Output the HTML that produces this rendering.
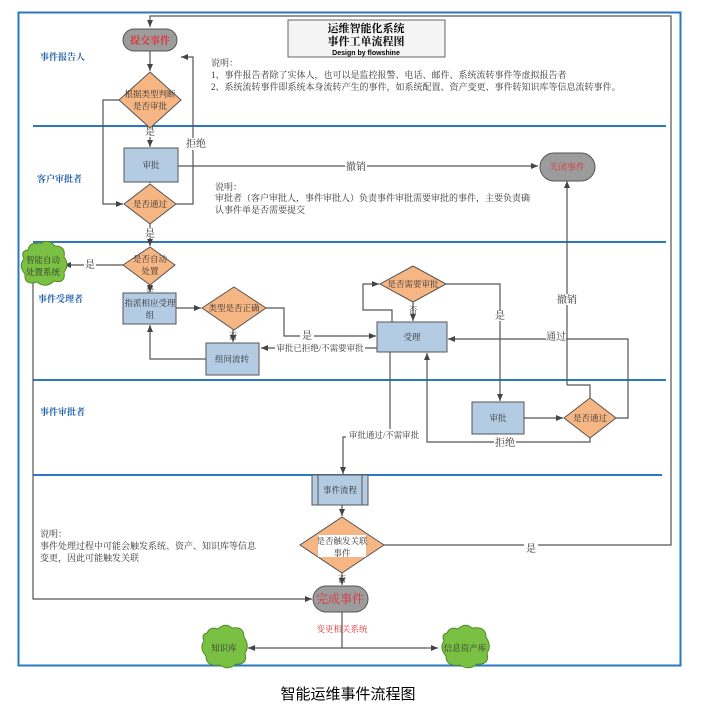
<!DOCTYPE html>
<html><head><meta charset="utf-8"><style>
body{margin:0;background:#fff;}
svg{display:block;font-family:"Liberation Serif","Noto Serif CJK SC","Noto Sans CJK SC",serif;}
.t{font-size:9px;fill:#333;}
.n{font-size:10px;fill:#333;}
.s{font-size:8.5px;}
.l{stroke:#555;stroke-width:1.2;fill:none;}
.lane{stroke:#2a78c0;stroke-width:2;}
.box{fill:#b4cce3;stroke:#555;stroke-width:1;}
.dia{fill:#f5b684;stroke:#555;stroke-width:1;}
.pill{fill:#9c9c9c;stroke:#555;stroke-width:1;}
.cloud{fill:#7ac143;stroke:#4e8a24;stroke-width:1;}
.lab{font-size:9px;font-weight:bold;fill:#1f5fa8;}
</style></head><body>
<svg width="714" height="711" viewBox="0 0 714 711" xmlns="http://www.w3.org/2000/svg">
<defs><marker id="a" markerWidth="8" markerHeight="8" refX="7" refY="4" orient="auto" markerUnits="userSpaceOnUse"><path d="M0,1 L7,4 L0,7 z" fill="#444"/></marker></defs>
<rect x="18.5" y="12.5" width="662" height="653" fill="none" stroke="#2a78c0" stroke-width="2"/>
<g class="lane"><line x1="33" y1="126" x2="666" y2="126"/><line x1="33" y1="242" x2="666" y2="242"/><line x1="33" y1="380" x2="666" y2="380"/><line x1="33" y1="475" x2="662" y2="475"/></g>
<text class="lab" x="40" y="60">事件报告人</text>
<text class="lab" x="37" y="182">客户审批者</text>
<text class="lab" x="38" y="302">事件受理者</text>
<text class="lab" x="40" y="415">事件审批者</text>
<rect x="288" y="20" width="157" height="37" fill="#f4f4f4" stroke="#666"/>
<text x="366" y="32" text-anchor="middle" font-size="11" font-weight="bold">运维智能化系统</text>
<text x="366" y="45" text-anchor="middle" font-size="11" font-weight="bold">事件工单流程图</text>
<text x="366" y="55" text-anchor="middle" font-size="7" font-family="Liberation Sans,sans-serif" font-weight="bold">Design by flowshine</text>
<text class="t" x="211" y="66">说明：</text>
<text class="t" x="211" y="78">1、事件报告者除了实体人，也可以是监控报警、电话、邮件、系统流转事件等虚拟报告者</text>
<text class="t" x="211" y="90">2、系统流转事件即系统本身流转产生的事件，如系统配置、资产变更、事件转知识库等信息流转事件。</text>
<text class="t" x="215" y="190">说明：</text>
<text class="t" x="215" y="201">审批者（客户审批人，事件审批人）负责事件审批需要审批的事件，主要负责确</text>
<text class="t" x="215" y="213">认事件单是否需要提交</text>
<text class="t" x="40" y="537">说明：</text>
<text class="t" x="40" y="549">事件处理过程中可能会触发系统、资产、知识库等信息</text>
<text class="t" x="40" y="561">变更，因此可能触发关联</text>
<path class="l" d="M384,545 H671 V16 H150 V27" marker-end="url(#a)"/>
<path class="l" d="M150,51 V71" marker-end="url(#a)"/>
<path class="l" d="M119,100 H103 V204 H123" marker-end="url(#a)"/>
<path class="l" d="M150,128 V147" marker-end="url(#a)"/>
<path class="l" d="M150,182 V183" marker-end="url(#a)"/>
<path class="l" d="M176,204 H193 V57 H181" marker-end="url(#a)"/>
<path class="l" d="M178,166 H538" marker-end="url(#a)"/>
<path class="l" d="M567,385 V181" marker-end="url(#a)"/>
<path class="l" d="M150,224 V246" marker-end="url(#a)"/>
<path class="l" d="M123,265 H64" marker-end="url(#a)"/>
<path class="l" d="M150,285 V292" marker-end="url(#a)"/>
<path class="l" d="M176,308 H201" marker-end="url(#a)"/>
<path class="l" d="M266,308 H284 V336 H376" marker-end="url(#a)"/>
<path class="l" d="M233,330 V342" marker-end="url(#a)"/>
<path class="l" d="M206,359 H150 V325" marker-end="url(#a)"/>
<path class="l" d="M377,348 H261" marker-end="url(#a)"/>
<path class="l" d="M392,322 V310 H363 V284 H379" marker-end="url(#a)"/>
<path class="l" d="M413,302 V321" marker-end="url(#a)"/>
<path class="l" d="M446,284 H500 V401" marker-end="url(#a)"/>
<path class="l" d="M524,418 H563" marker-end="url(#a)"/>
<path class="l" d="M616,418 H628 V339 H448" marker-end="url(#a)"/>
<path class="l" d="M590,438 V442 H427 V353" marker-end="url(#a)"/>
<path class="l" d="M590,398 V385 H567"/>
<path class="l" d="M390,352 V437 H343 V474" marker-end="url(#a)"/>
<path class="l" d="M342,505 V516" marker-end="url(#a)"/>
<path class="l" d="M342,573 V585" marker-end="url(#a)"/>
<path class="l" d="M33,282 V599 H312" marker-end="url(#a)"/>
<path class="l" d="M342,612 V648"/>
<path class="l" d="M342,648 H248" marker-end="url(#a)"/>
<path class="l" d="M342,648 H438" marker-end="url(#a)"/>
<g class="n" text-anchor="middle">
<rect x="143" y="127" width="14" height="10" fill="#fff"/><text x="150" y="135">是</text>
<rect x="185" y="138" width="18" height="12" fill="#fff"/><text x="196" y="147">拒绝</text>
<rect x="345" y="161" width="22" height="11" fill="#fff"/><text x="356" y="170">撤销</text>
<rect x="143" y="228" width="14" height="10" fill="#fff"/><text x="150" y="237">是</text>
<rect x="84" y="260" width="12" height="10" fill="#fff"/><text x="90" y="268">是</text>
<text x="150" y="293" font-size="8.5">是</text>
<text x="233" y="339" font-size="8.5">否</text>
<rect x="300" y="331" width="14" height="10" fill="#fff"/><text x="307" y="339">是</text>
<rect x="275" y="342" width="90" height="11" fill="#fff"/><text x="320" y="351" font-size="8.5">审批已拒绝/不需要审批</text>
<text x="413" y="313" font-size="8.5">否</text>
<rect x="493" y="311" width="14" height="10" fill="#fff"/><text x="500" y="319">是</text>
<rect x="546" y="331" width="20" height="11" fill="#fff"/><text x="556" y="340">通过</text>
<rect x="558" y="294" width="20" height="11" fill="#fff"/><text x="567" y="303">撤销</text>
<rect x="494" y="437" width="22" height="11" fill="#fff"/><text x="505" y="446">拒绝</text>
<rect x="346" y="429" width="76" height="11" fill="#fff"/><text x="384" y="438" font-size="8.5">审批通过/不需审批</text>
<rect x="524" y="544" width="14" height="10" fill="#fff"/><text x="531" y="552">是</text>
<text x="342" y="582" font-size="8.5">否</text>
<text x="342" y="632" font-size="8.5" fill="#e0313a">变更相关系统</text>
</g>
<rect x="123" y="29" width="54" height="22" rx="11" class="pill"/>
<text x="150" y="44" text-anchor="middle" font-size="10" font-weight="bold" fill="#e0313a">提交事件</text>
<polygon class="dia" points="150,72 181,100 150,128 119,100"/>
<text x="150" y="97" text-anchor="middle" class="n s">根据类型判断</text>
<text x="150" y="109" text-anchor="middle" class="n s">是否审批</text>
<rect x="124" y="148" width="54" height="34" class="box"/>
<text x="151" y="168" text-anchor="middle" class="n s">审批</text>
<polygon class="dia" points="150,184 176,204 150,224 124,204"/>
<text x="150" y="207" text-anchor="middle" class="n s">是否通过</text>
<rect x="540" y="153" width="55" height="28" rx="14" class="pill"/>
<text x="567" y="170" text-anchor="middle" font-size="9" fill="#e0313a">关闭事件</text>
<polygon class="dia" points="150,247 175,265 150,285 123,265"/>
<text x="150" y="262" text-anchor="middle" class="n s">是否自动</text>
<text x="150" y="274" text-anchor="middle" class="n s">处置</text>
<path class="cloud" d="M28,250 Q30,241 40,244 Q48,238 55,246 Q66,246 64,257 Q70,265 64,272 Q66,284 54,281 Q46,289 37,282 Q24,286 25,274 Q18,266 24,259 Q20,251 28,250 z"/>
<text x="43" y="263" text-anchor="middle" class="n s">智能自动</text>
<text x="43" y="275" text-anchor="middle" class="n s">处置系统</text>
<rect x="123" y="293" width="53" height="31" class="box"/>
<text x="150" y="306" text-anchor="middle" class="n s">指派相应受理</text>
<text x="150" y="318" text-anchor="middle" class="n s">组</text>
<polygon class="dia" points="234,287 266,308 234,330 202,308"/>
<text x="234" y="311" text-anchor="middle" class="n s">类型是否正确</text>
<rect x="206" y="343" width="53" height="32" class="box"/>
<text x="232" y="362" text-anchor="middle" class="n s">组间流转</text>
<polygon class="dia" points="413,266 446,284 413,302 380,284"/>
<text x="413" y="287" text-anchor="middle" class="n s">是否需要审批</text>
<rect x="377" y="322" width="70" height="30" class="box"/>
<text x="412" y="340" text-anchor="middle" class="n s">受理</text>
<rect x="472" y="402" width="52" height="32" class="box"/>
<text x="498" y="421" text-anchor="middle" class="n s">审批</text>
<polygon class="dia" points="590,398 616,418 590,438 564,418"/>
<text x="590" y="421" text-anchor="middle" class="n s">是否通过</text>
<rect x="312" y="475" width="56" height="30" class="box"/>
<line x1="318" y1="475" x2="318" y2="505" stroke="#555"/><line x1="362" y1="475" x2="362" y2="505" stroke="#555"/>
<text x="340" y="493" text-anchor="middle" class="n s">事件流程</text>
<polygon class="dia" points="342,517 384,545 342,573 300,545"/>
<rect x="318" y="535" width="48" height="22" fill="#fff"/>
<text x="342" y="544" text-anchor="middle" class="n s">是否触发关联</text>
<text x="342" y="556" text-anchor="middle" class="n s">事件</text>
<rect x="313" y="586" width="55" height="26" rx="13" class="pill"/>
<text x="340" y="603" text-anchor="middle" font-size="12" fill="#e0313a">完成事件</text>
<path class="cloud" d="M207,633 Q210,626 218,629 Q225,622 232,628 Q244,626 244,637 Q250,646 245,653 Q248,665 236,664 Q228,671 220,665 Q206,667 206,656 Q199,648 204,641 Q201,634 207,633 z"/>
<text x="224" y="651" text-anchor="middle" class="n s">知识库</text>
<path class="cloud" d="M447,633 Q450,626 458,629 Q465,622 472,628 Q486,626 486,637 Q492,646 487,653 Q490,665 477,664 Q469,671 460,665 Q446,667 446,656 Q439,648 444,641 Q441,634 447,633 z"/>
<text x="465" y="651" text-anchor="middle" class="n s">信息资产库</text>
<text x="348" y="699" text-anchor="middle" font-size="15" font-family="Liberation Sans,Noto Sans CJK SC,sans-serif">智能运维事件流程图</text>
</svg>
</body></html>
